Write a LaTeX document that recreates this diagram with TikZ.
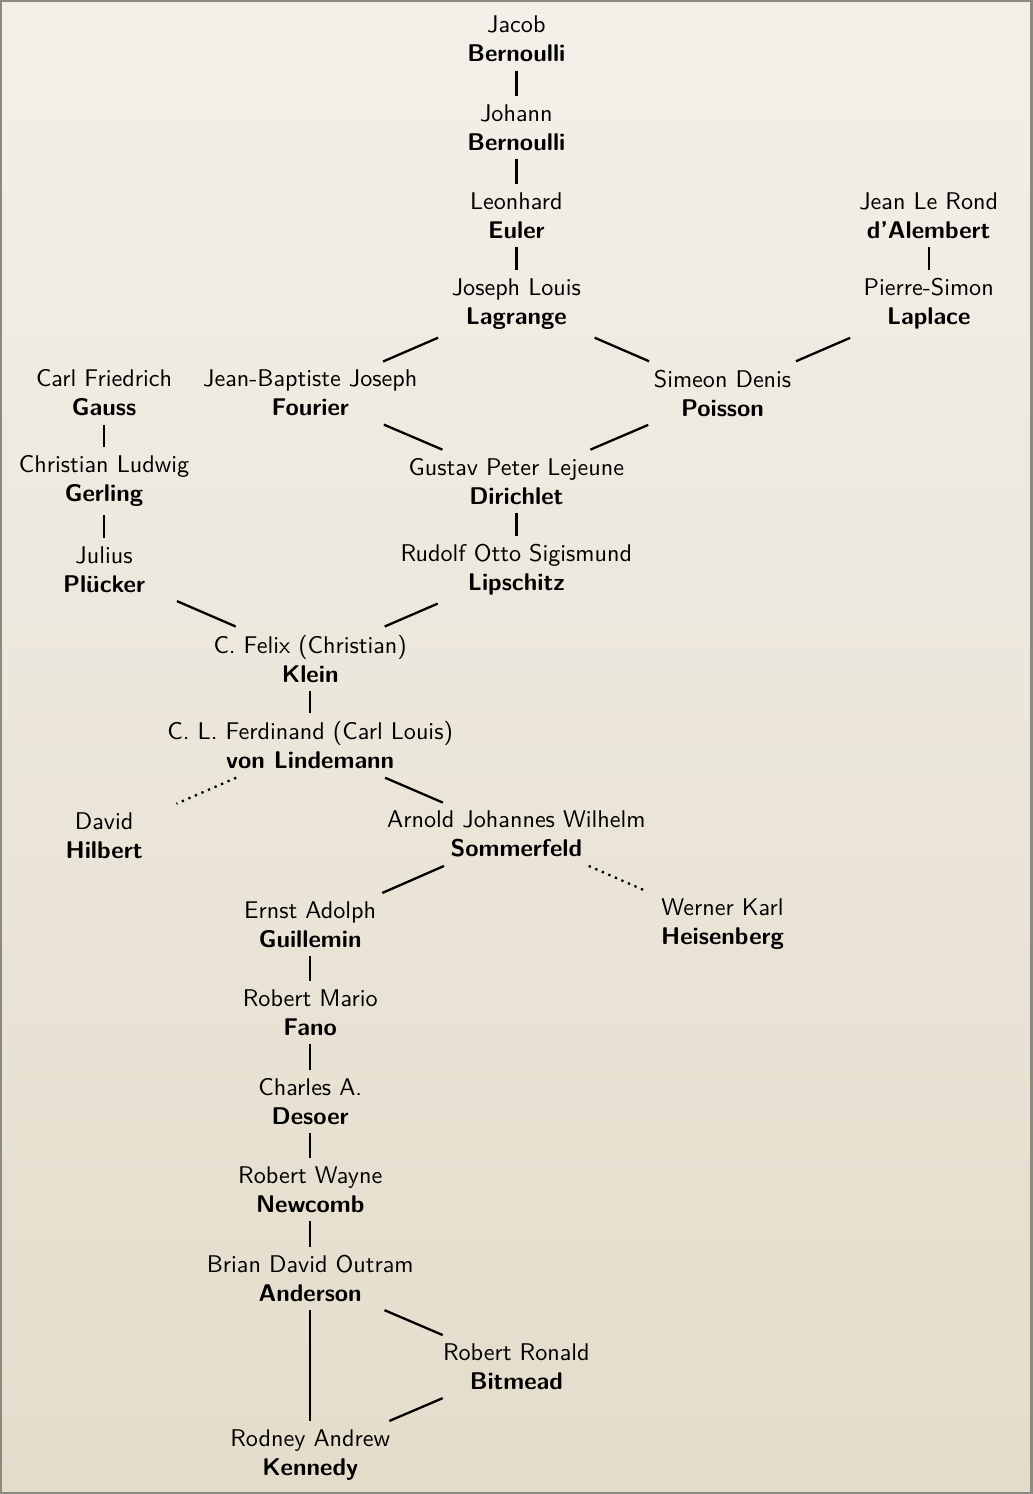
\documentclass[tikz,border=0pt]{standalone}
\usepackage{tikz}
\definecolor{bgtop}{HTML}{F3F0E9}
\definecolor{bgbot}{HTML}{E4DCCB}
\definecolor{frame}{HTML}{8A8A80}
\begin{document}
\begin{tikzpicture}[x=0.014528cm,y=-0.014528cm,
  person/.style={align=center,font=\sffamily,minimum width=70pt},
  link/.style={line width=0.95pt},
  weak/.style={line width=0.95pt,dotted}]
\shade[top color=bgtop,bottom color=bgbot,draw=frame,line width=1pt] (0,0) rectangle (1032,1494);
\useasboundingbox (0,0) rectangle (1032,1494);
% nodes
\node[person] (jacob) at (516,38) {Jacob\\\textbf{Bernoulli}};
\node[person] (johann) at (516,126.4) {Johann\\\textbf{Bernoulli}};
\node[person] (euler) at (516,214.8) {Leonhard\\\textbf{Euler}};
\node[person] (dalembert) at (929,214.8) {Jean Le Rond\\\textbf{d'Alembert}};
\node[person] (lagrange) at (516,303.1) {Joseph Louis\\\textbf{Lagrange}};
\node[person] (laplace) at (929,303.1) {Pierre-Simon\\\textbf{Laplace}};
\node[person] (gauss) at (103,392.5) {Carl Friedrich\\\textbf{Gauss}};
\node[person] (fourier) at (309.5,392.5) {Jean-Baptiste Joseph\\\textbf{Fourier}};
\node[person] (poisson) at (722.5,392.5) {Simeon Denis\\\textbf{Poisson}};
\node[person] (gerling) at (103,480.9) {Christian Ludwig\\\textbf{Gerling}};
\node[person] (dirichlet) at (516,480.9) {Gustav Peter Lejeune\\\textbf{Dirichlet}};
\node[person] (plucker) at (103,569.3) {Julius\\\textbf{Plücker}};
\node[person] (lipschitz) at (516,569.3) {Rudolf Otto Sigismund\\\textbf{Lipschitz}};
\node[person] (klein) at (309.5,658.6) {C. Felix (Christian)\\\textbf{Klein}};
\node[person] (lindemann) at (309.5,745.5) {C. L. Ferdinand (Carl Louis)\\\textbf{von Lindemann}};
\node[person] (hilbert) at (103,835.4) {David\\\textbf{Hilbert}};
\node[person] (sommerfeld) at (516,834.4) {Arnold Johannes Wilhelm\\\textbf{Sommerfeld}};
\node[person] (guillemin) at (309.5,924.8) {Ernst Adolph\\\textbf{Guillemin}};
\node[person] (heisenberg) at (722.5,924.8) {Werner Karl\\\textbf{Heisenberg}};
\node[person] (fano) at (309.5,1013.1) {Robert Mario\\\textbf{Fano}};
\node[person] (desoer) at (309.5,1102) {Charles A.\\\textbf{Desoer}};
\node[person] (newcomb) at (309.5,1190.6) {Robert Wayne\\\textbf{Newcomb}};
\node[person] (anderson) at (309.5,1279.2) {Brian David Outram\\\textbf{Anderson}};
\node[person] (bitmead) at (516,1367.6) {Robert Ronald\\\textbf{Bitmead}};
\node[person] (kennedy) at (309.5,1456) {Rodney Andrew\\\textbf{Kennedy}};
% links
\draw[link] (jacob) -- (johann);
\draw[link] (johann) -- (euler);
\draw[link] (euler) -- (lagrange);
\draw[link] (dalembert) -- (laplace);
\draw[link] (lagrange) -- (fourier);
\draw[link] (lagrange) -- (poisson);
\draw[link] (laplace) -- (poisson);
\draw[link] (gauss) -- (gerling);
\draw[link] (gerling) -- (plucker);
\draw[link] (fourier) -- (dirichlet);
\draw[link] (poisson) -- (dirichlet);
\draw[link] (dirichlet) -- (lipschitz);
\draw[link] (plucker) -- (klein);
\draw[link] (lipschitz) -- (klein);
\draw[link] (klein) -- (lindemann);
\draw[weak] (lindemann) -- (hilbert);
\draw[link] (lindemann) -- (sommerfeld);
\draw[link] (sommerfeld) -- (guillemin);
\draw[weak] (sommerfeld) -- (heisenberg);
\draw[link] (guillemin) -- (fano);
\draw[link] (fano) -- (desoer);
\draw[link] (desoer) -- (newcomb);
\draw[link] (newcomb) -- (anderson);
\draw[link] (anderson) -- (bitmead);
\draw[link] (anderson) -- (kennedy);
\draw[link] (bitmead) -- (kennedy);
\end{tikzpicture}
\end{document}
